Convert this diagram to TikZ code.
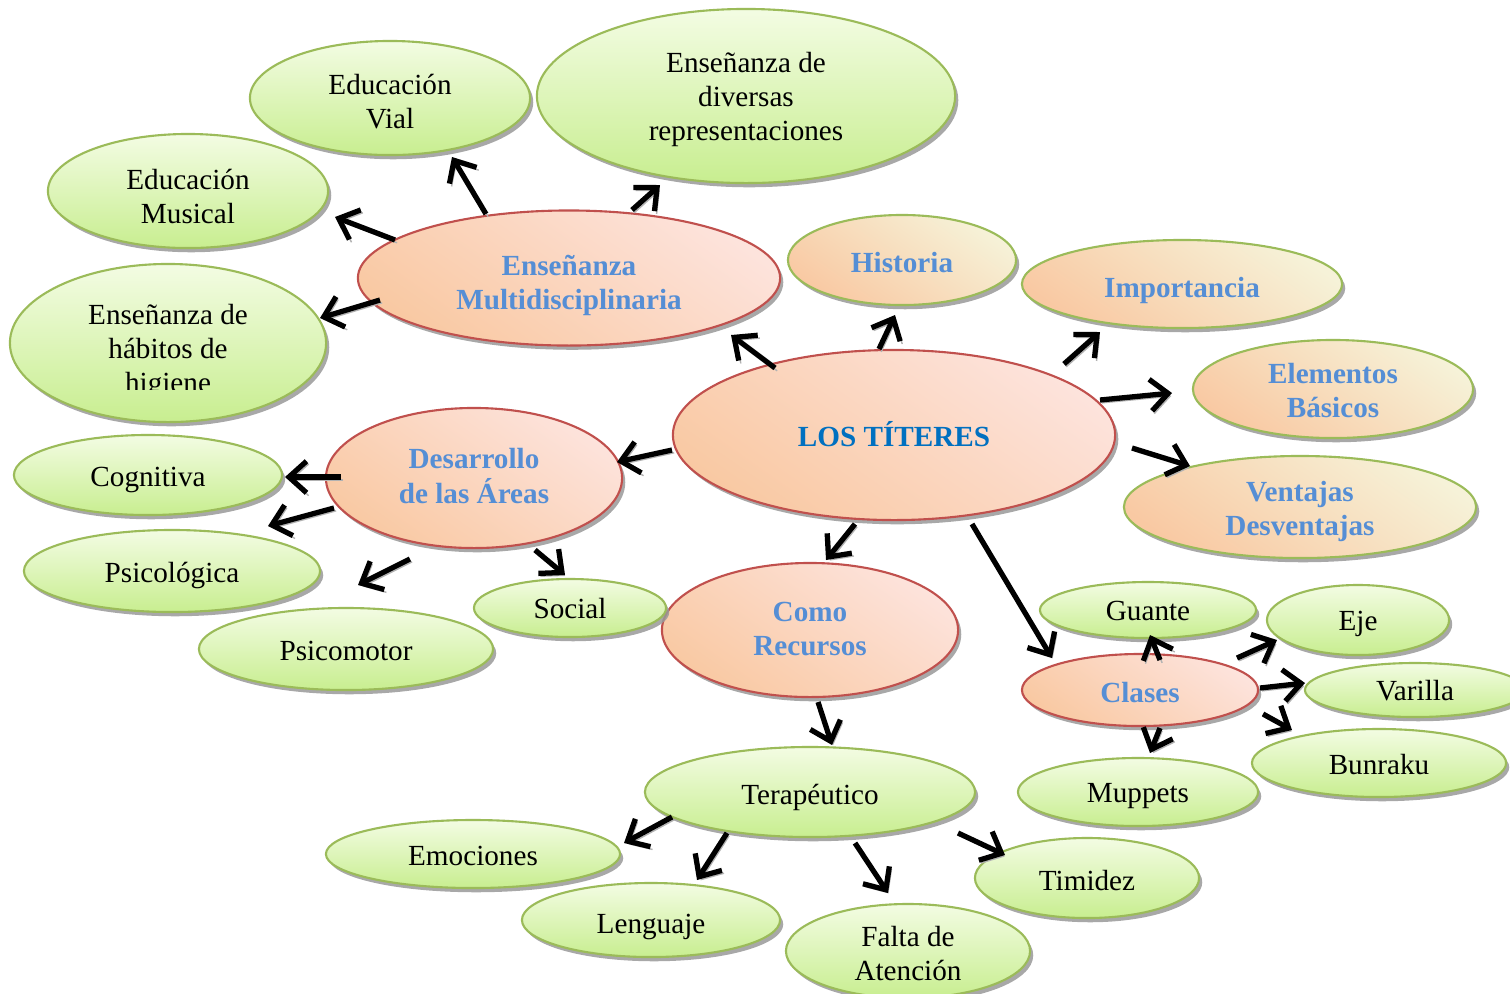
\documentclass[tikz,border=0pt]{standalone}
\usepackage{fontspec}
\setmainfont{Liberation Serif}
\usetikzlibrary{shapes.geometric,arrows.meta,shadows}
\definecolor{grnB}{HTML}{9BBB59}
\definecolor{grnT}{HTML}{F3FCE3}
\definecolor{grnD}{HTML}{C8EE90}
\definecolor{redB}{HTML}{C0504D}
\definecolor{orL}{HTML}{FDE3DC}
\definecolor{orD}{HTML}{F9C9A3}
\definecolor{yeL}{HTML}{F6F2D8}
\definecolor{blueT}{HTML}{558ED5}
\definecolor{blueM}{HTML}{0070C0}
% text block with fixed vertical placement (shift in cm, negative = lower)
\newcommand\tx[2][-0.12]{\raisebox{#1cm}[0pt][0pt]{\begin{tabular}{@{}c@{}}#2\end{tabular}}}
\tikzset{
  base/.style={ellipse, inner sep=0pt, align=center,
    font=\fontsize{8.3}{9.7}\selectfont, line width=0.6pt,
    drop shadow={shadow xshift=0.9pt, shadow yshift=-1.2pt, fill=black!40, opacity=0.85}},
  gn/.style={base, draw=grnB, top color=grnT, bottom color=grnD, text=black},
  orr/.style={base, draw=redB, top color=orL, bottom color=orD, shading angle=-35,
    text=blueT, font=\fontsize{8.3}{9.7}\selectfont\bfseries},
  org/.style={base, draw=grnB, top color=yeL, bottom color=orD, shading angle=-35,
    text=blueT, font=\fontsize{8.3}{9.7}\selectfont\bfseries},
  arr/.style={draw=black, line width=1.5pt,
    -{Straight Barb[length=5pt,width=9pt,line width=1.5pt]},
    preaction={draw=black!30, transform canvas={shift={(0.6pt,-0.8pt)}}}},
  sz/.style 2 args={minimum width=#1cm, minimum height=#2cm}
}
\begin{document}
\begin{tikzpicture}[x=0.01cm, y=-0.01cm]
\useasboundingbox (0,0) rectangle (1510,993);
\clip (0,0) rectangle (1510,993);

% central
\node[orr, sz={4.42}{1.70}, text=blueM] (main) at (894,435) {\tx[-0.11]{LOS TÍTERES}};

% first level
\node[orr, sz={4.22}{1.35}] (multi) at (569,278) {\tx[-0.145]{Enseñanza\\Multidisciplinaria}};
\node[org, sz={2.28}{0.90}] (hist) at (902,260) {\tx[-0.13]{Historia}};
\node[org, sz={3.20}{0.88}] (imp) at (1182,284) {\tx[-0.14]{Importancia}};
\node[org, sz={2.80}{0.98}] (elem) at (1333,389) {\tx[-0.12]{Elementos\\Básicos}};
\node[org, sz={3.52}{1.02}] (vent) at (1300,507) {\tx[-0.115]{Ventajas\\Desventajas}};
\node[orr, sz={2.96}{1.40}] (desa) at (474,478) {\tx[-0.08]{Desarrollo\\de las Áreas}};
\node[orr, sz={2.96}{1.34}] (recu) at (810,630) {\tx[-0.09]{Como\\Recursos}};
\node[orr, sz={2.36}{0.72}] (clas) at (1140,690) {\tx[-0.13]{Clases}};

% Enseñanza multidisciplinaria children
\node[gn, sz={2.80}{1.14}] (vial) at (390,98) {\tx[-0.14]{Educación\\Vial}};
\node[gn, sz={4.18}{1.74}] (dive) at (746,96) {\tx[-0.11]{Enseñanza de\\diversas\\representaciones}};
\node[gn, sz={2.80}{1.14}] (musi) at (188,191) {\tx[-0.155]{Educación\\Musical}};
\node[gn, sz={3.16}{1.58}] (higi) at (168,343) {};
\begin{scope}
  \clip (0,260) rectangle (330,389);
  \node[align=center, inner sep=0pt, font=\fontsize{8.3}{9.7}\selectfont] (higit) at (168,343) {\tx[-0.16]{Enseñanza de\\hábitos de\\higiene}};
\end{scope}

% Desarrollo children
\node[gn, sz={2.68}{0.80}] (cogn) at (148,475) {\tx{Cognitiva}};
\node[gn, sz={2.96}{0.82}] (psil) at (172,571) {\tx{Psicológica}};
\node[gn, sz={2.94}{0.82}] (psim) at (346,649) {\tx{Psicomotor}};
\node[gn, sz={1.92}{0.58}] (soci) at (570,608) {\tx[-0.11]{Social}};

% Clases children
\node[gn, sz={2.16}{0.56}] (guan) at (1148,610) {\tx[-0.11]{Guante}};
\node[gn, sz={1.82}{0.70}] (eje) at (1358,620) {\tx[-0.11]{Eje}};
\node[gn, sz={2.20}{0.54}] (vari) at (1415,690) {\tx[-0.11]{Varilla}};
\node[gn, sz={2.54}{0.68}] (bunr) at (1379,763) {\tx{Bunraku}};
\node[gn, sz={2.40}{0.68}] (mupp) at (1138,792) {\tx[-0.11]{Muppets}};

% Recursos children
\node[gn, sz={3.30}{0.90}] (tera) at (810,792) {\tx[-0.13]{Terapéutico}};
\node[gn, sz={2.94}{0.68}] (emoc) at (473,854) {\tx{Emociones}};
\node[gn, sz={2.58}{0.74}] (leng) at (651,920) {\tx[-0.14]{Lenguaje}};
\node[gn, sz={2.44}{0.94}] (falt) at (908,951) {\tx[-0.125]{Falta de\\Atención}};
\node[gn, sz={2.24}{0.80}] (timi) at (1087,878) {\tx[-0.13]{Timidez}};

% arrows from LOS TITERES
\draw[arr] (775,368) -- (731,335);
\draw[arr] (879,349) -- (895,315);
\draw[arr] (1064,364) -- (1100,332);
\draw[arr] (1100,400) -- (1172,393);
\draw[arr] (1132,448) -- (1190,466);
\draw[arr] (672,450) -- (617,462);
\draw[arr] (855,524) -- (826,560);
\draw[arr] (972,524) -- (1052,658);
% Enseñanza multidisciplinaria
\draw[arr] (486,214) -- (452,157);
\draw[arr] (632,210) -- (660,185);
\draw[arr] (395,240) -- (335,217);
\draw[arr] (380,300) -- (320,318);
% Desarrollo
\draw[arr] (341,477) -- (285,477);
\draw[arr] (334,508) -- (268,526);
\draw[arr] (410,559) -- (358,585);
\draw[arr] (535,550) -- (565,575);
% Recursos
\draw[arr] (818,702) -- (832,745);
% Terapeutico
\draw[arr] (672,817) -- (624,843);
\draw[arr] (727,833) -- (697,880);
\draw[arr] (855,843) -- (888,893);
\draw[arr] (958,833) -- (1005,855);
% Clases
\draw[arr] (1160,660) -- (1150,635);
\draw[arr] (1237,658) -- (1277,640);
\draw[arr] (1260,688) -- (1305,683);
\draw[arr] (1263,714) -- (1292,730);
\draw[arr] (1160,728) -- (1150,753);
\end{tikzpicture}
\end{document}
